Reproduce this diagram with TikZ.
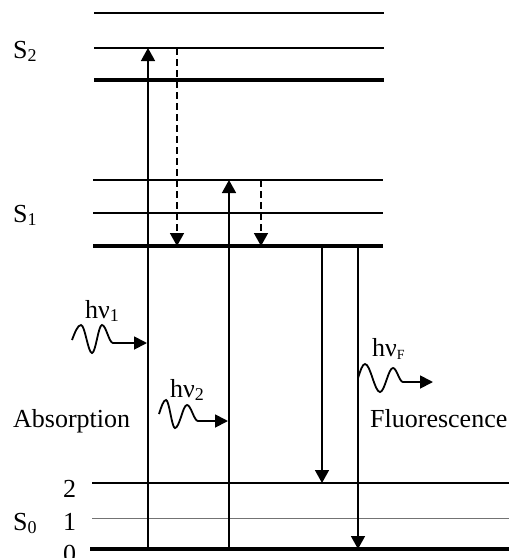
\documentclass[tikz,border=0pt]{standalone}
\usepackage{fontspec}
\setmainfont{Liberation Serif}
\usetikzlibrary{arrows.meta}
\newcommand\lsub[1]{\raisebox{-3pt}{\fontsize{18}{18}\selectfont #1}}
\begin{document}
\begin{tikzpicture}[x=1pt,y=-1pt,
  lvl/.style={line width=1.5pt},
  lvlthick/.style={line width=4pt},
  lvlthin/.style={line width=1pt, black!55},
  tr/.style={line width=1.5pt,-{Triangle[length=13pt,width=14pt]}},
  nr/.style={tr, dash pattern=on 7pt off 4pt},
  wave/.style={line width=1.8pt,-{Triangle[length=13pt,width=13pt]}},
  lbl/.style={inner sep=0pt, anchor=base west, font=\fontsize{26}{30}\selectfont},
]
\useasboundingbox (0,0) rectangle (514,558);
% level end points
\coordinate (S2cl) at (94,13);  \coordinate (S2cr) at (384,13);
\coordinate (S2bl) at (94,48);  \coordinate (S2br) at (384,48);
\coordinate (S2al) at (94,80);  \coordinate (S2ar) at (384,80);
\coordinate (S1cl) at (93,180); \coordinate (S1cr) at (383,180);
\coordinate (S1bl) at (93,213); \coordinate (S1br) at (383,213);
\coordinate (S1al) at (93,246); \coordinate (S1ar) at (383,246);
\coordinate (S0cl) at (92,483); \coordinate (S0cr) at (509,483);
\coordinate (S0bl) at (92,518); \coordinate (S0br) at (509,518);
\coordinate (S0al) at (90,549); \coordinate (S0ar) at (509,549);
\draw[lvl] (S2cl) -- (S2cr);
\draw[lvl] (S2bl) -- (S2br);
\draw[lvlthick] (S2al) -- (S2ar);
\draw[lvl] (S1cl) -- (S1cr);
\draw[lvl] (S1bl) -- (S1br);
\draw[lvlthick] (S1al) -- (S1ar);
\draw[lvl] (S0cl) -- (S0cr);
\draw[lvlthin] (S0bl) -- (S0br);
\draw[lvlthick] (S0al) -- (S0ar);
% transitions
\coordinate (A1s) at (148,549); \coordinate (A1e) at (148,48);
\coordinate (D1s) at (177,48);  \coordinate (D1e) at (177,246);
\coordinate (A2s) at (229,549); \coordinate (A2e) at (229,180);
\coordinate (D2s) at (261,180); \coordinate (D2e) at (261,246);
\coordinate (F1s) at (322,246); \coordinate (F1e) at (322,483);
\coordinate (F2s) at (358,246); \coordinate (F2e) at (358,549);
\draw[tr] (A1s) -- (A1e);
\draw[nr] (D1s) -- (D1e);
\draw[tr] (A2s) -- (A2e);
\draw[nr] (D2s) -- (D2e);
\draw[tr] (F1s) -- (F1e);
\draw[tr] (F2s) -- (F2e);
% photons
\coordinate (W1s) at (72,340);  \coordinate (W1e) at (147,343);
\coordinate (W2s) at (159,414); \coordinate (W2e) at (228,421);
\coordinate (WFs) at (358,378); \coordinate (WFe) at (433,382);
\draw[wave] (W1s) sin (81,325) cos (86.5,339) sin (92,353) cos (97,339)
  sin (102,325) cos (107.5,334) sin (113,343) -- (W1e);
\draw[wave] (W2s) sin (166,400) cos (170.5,414) sin (175,428) cos (181,417)
  sin (187,405) cos (192.5,413) sin (198,421) -- (W2e);
\draw[wave] (WFs) sin (365,364) cos (372.5,378) sin (380,392) cos (386.5,380)
  sin (393,368) cos (398,375) sin (403,382) -- (WFe);
% labels
\node[lbl] (s2) at (13,58) {S\lsub{2}};
\node[lbl] (s1) at (13,222) {S\lsub{1}};
\node[lbl] (s0) at (13,530) {S\lsub{0}};
\node[lbl] (n2) at (63,497) {2};
\node[lbl] (n1) at (63,530) {1};
\node[lbl] (n0) at (63,562) {0};
\node[lbl] (abs) at (13,427) {Absorption};
\node[lbl] (flu) at (370,427) {Fluorescence};
\node[lbl] (h1) at (85,318) {hν\lsub{1}};
\node[lbl] (h2) at (170,397) {hν\lsub{2}};
\node[lbl] (hF) at (372,356) {hν\lsub{\fontsize{14}{14}\selectfont F}};
\end{tikzpicture}
\end{document}
